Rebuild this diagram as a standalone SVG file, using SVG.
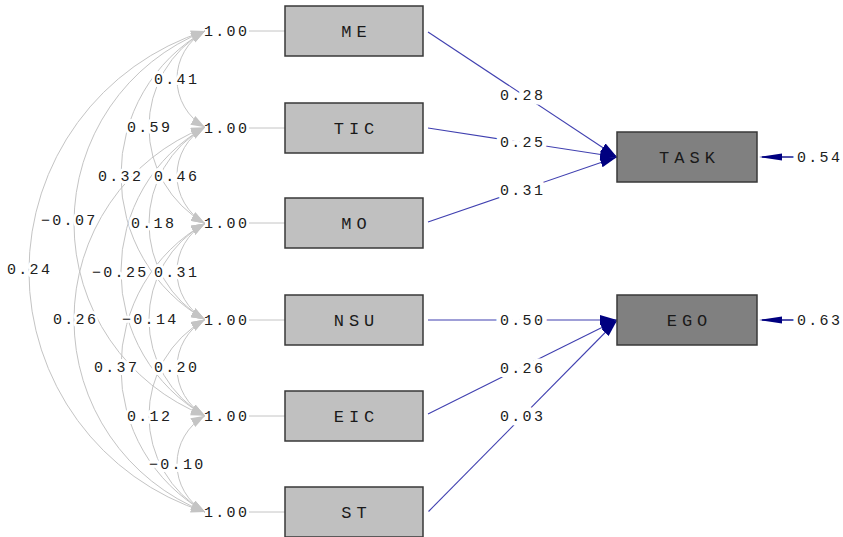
<svg xmlns="http://www.w3.org/2000/svg" width="843" height="537" viewBox="0 0 843 537">
<style>
.bg{fill:#ffffff}
.cov{fill:none;stroke:#c4c4c4;stroke-width:1;marker-start:url(#ga);marker-end:url(#ga)}
.lab{font-family:"Liberation Mono","DejaVu Sans Mono",monospace;font-size:15px;letter-spacing:2.3px;fill:#202020;paint-order:stroke;stroke:#ffffff;stroke-width:6px;stroke-linejoin:round}
.plab{font-family:"Liberation Mono","DejaVu Sans Mono",monospace;font-size:15px;letter-spacing:2.3px;fill:#202020;paint-order:stroke;stroke:#ffffff;stroke-width:9px;stroke-linejoin:round}
.one{font-family:"Liberation Mono","DejaVu Sans Mono",monospace;font-size:15px;letter-spacing:2.3px;fill:#202020}
.tick{stroke:#c4c4c4;stroke-width:1}
.path{fill:none;stroke:#4040b0;stroke-width:1.1;marker-end:url(#na)}
.err{fill:none;stroke:#1a1a90;stroke-width:1.5}
.ox{fill:#c0c0c0;stroke:#383838;stroke-width:1.5}
.lv{fill:#808080;stroke:#383838;stroke-width:1.5}
.name{font-family:"Liberation Mono","DejaVu Sans Mono",monospace;font-size:17px;letter-spacing:5px;fill:#1a1a1a;text-anchor:middle}
</style>
<defs>
<marker id="ga" markerUnits="userSpaceOnUse" markerWidth="16" markerHeight="12" refX="14" refY="5" orient="auto-start-reverse">
<path d="M0,0 L14,5 L0,10 z" fill="#c4c4c4"/>
</marker>
<marker id="na" markerUnits="userSpaceOnUse" markerWidth="20" markerHeight="12" refX="17" refY="5" orient="auto">
<path d="M0,0 L17,5 L0,10 z" fill="#000080"/>
</marker>
</defs>
<rect class="bg" x="0" y="0" width="843" height="537"/>

<g id="connectors">
<path class="cov" d="M205,31 A55.3,55.3 0 0 0 205,127.2"/>
<path class="cov" d="M205,127.2 A55.3,55.3 0 0 0 205,223.4"/>
<path class="cov" d="M205,223.4 A55.3,55.3 0 0 0 205,319.6"/>
<path class="cov" d="M205,319.6 A55.3,55.3 0 0 0 205,415.8"/>
<path class="cov" d="M205,415.8 A55.3,55.3 0 0 0 205,512"/>
<path class="cov" d="M205,31 A110.6,110.6 0 0 0 205,223.4"/>
<path class="cov" d="M205,127.2 A110.6,110.6 0 0 0 205,319.6"/>
<path class="cov" d="M205,223.4 A110.6,110.6 0 0 0 205,415.8"/>
<path class="cov" d="M205,319.6 A110.6,110.6 0 0 0 205,512"/>
<path class="cov" d="M205,31 A165.9,165.9 0 0 0 205,319.6"/>
<path class="cov" d="M205,127.2 A165.9,165.9 0 0 0 205,415.8"/>
<path class="cov" d="M205,223.4 A165.9,165.9 0 0 0 205,512"/>
<path class="cov" d="M205,31 A206.8,206.8 0 0 0 205,415.8"/>
<path class="cov" d="M205,127.2 A206.8,206.8 0 0 0 205,512"/>
<path class="cov" d="M205,31 A252.3,252.3 0 0 0 205,512"/>
<line class="tick" x1="249" y1="31" x2="285" y2="31"/>
<line class="tick" x1="249" y1="128" x2="285" y2="128"/>
<line class="tick" x1="249" y1="223" x2="285" y2="223"/>
<line class="tick" x1="249" y1="320" x2="285" y2="320"/>
<line class="tick" x1="249" y1="416" x2="285" y2="416"/>
<line class="tick" x1="249" y1="512" x2="285" y2="512"/>
<path class="path" d="M428,32 L617,157"/>
<path class="path" d="M428,128 L617,157"/>
<path class="path" d="M428,222 L617,157"/>
<path class="path" d="M428,320 L617,320"/>
<path class="path" d="M428,414 L617,320"/>
<path class="path" d="M428.5,511.5 L617,320.5"/>
<line class="err" x1="762" y1="157" x2="795" y2="157"/>
<polygon points="759,157 782,153.5 782,160.5" fill="#000080"/>
<line class="err" x1="762" y1="320" x2="795" y2="320"/>
<polygon points="759,320 782,316.5 782,323.5" fill="#000080"/>
<text class="lab" x="154" y="84">0.41</text>
<text class="lab" x="127" y="132">0.59</text>
<text class="lab" x="98" y="181">0.32</text>
<text class="lab" x="154" y="181">0.46</text>
<text class="lab" x="41" y="225">−0.07</text>
<text class="lab" x="131" y="228">0.18</text>
<text class="lab" x="7" y="274">0.24</text>
<text class="lab" x="92" y="277">−0.25</text>
<text class="lab" x="154" y="277">0.31</text>
<text class="lab" x="53" y="324">0.26</text>
<text class="lab" x="122" y="324">−0.14</text>
<text class="lab" x="94" y="372">0.37</text>
<text class="lab" x="154" y="372">0.20</text>
<text class="lab" x="127" y="421">0.12</text>
<text class="lab" x="149" y="469">−0.10</text>
<text class="one" x="204" y="36">1.00</text>
<text class="one" x="204" y="133">1.00</text>
<text class="one" x="204" y="228">1.00</text>
<text class="one" x="204" y="325">1.00</text>
<text class="one" x="204" y="421">1.00</text>
<text class="one" x="204" y="517">1.00</text>
<text class="plab" x="500" y="100">0.28</text>
<text class="plab" x="500" y="147">0.25</text>
<text class="plab" x="500" y="195">0.31</text>
<text class="plab" x="500" y="325">0.50</text>
<text class="plab" x="500" y="373">0.26</text>
<text class="plab" x="500" y="421">0.03</text>
<text class="plab" x="797" y="162">0.54</text>
<text class="plab" x="797" y="325">0.63</text>
</g>

<g id="ME"><rect class="ox" x="285" y="6" width="138" height="50"/><text class="name" x="356.5" y="37">ME</text></g>
<g id="TIC"><rect class="ox" x="285" y="103" width="138" height="50"/><text class="name" x="356.5" y="134">TIC</text></g>
<g id="MO"><rect class="ox" x="285" y="198" width="138" height="50"/><text class="name" x="356.5" y="229">MO</text></g>
<g id="NSU"><rect class="ox" x="285" y="295" width="138" height="50"/><text class="name" x="356.5" y="326">NSU</text></g>
<g id="EIC"><rect class="ox" x="285" y="391" width="138" height="50"/><text class="name" x="356.5" y="422">EIC</text></g>
<g id="ST"><rect class="ox" x="285" y="487" width="138" height="50"/><text class="name" x="356.5" y="518">ST</text></g>
<g id="TASK"><rect class="lv" x="617" y="132" width="140" height="50"/><text class="name" x="689.5" y="163">TASK</text></g>
<g id="EGO"><rect class="lv" x="617" y="295" width="140" height="50"/><text class="name" x="689.5" y="326">EGO</text></g>
</svg>
